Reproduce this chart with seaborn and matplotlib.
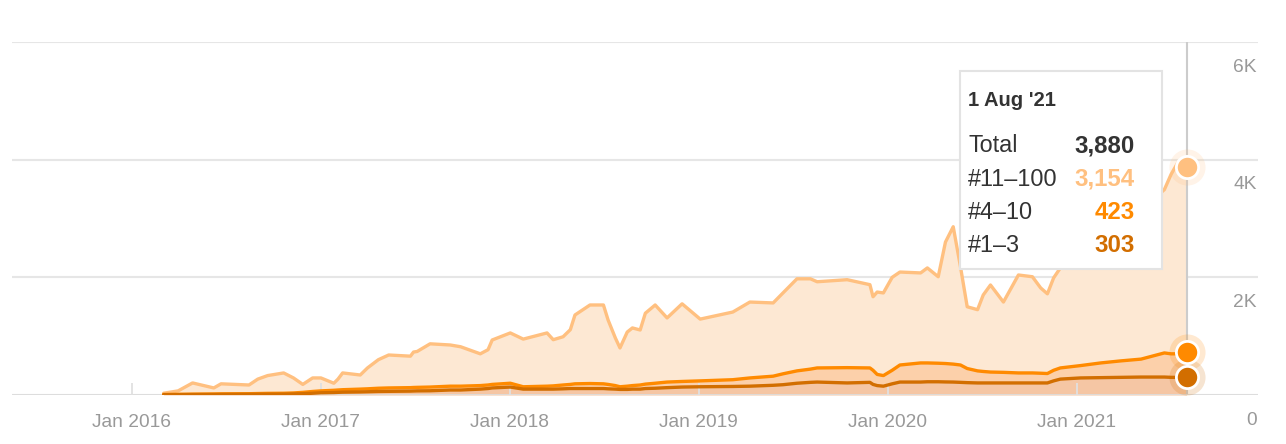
import pandas as pd
import matplotlib.pyplot as plt
import matplotlib.dates as mdates
from matplotlib.patches import Rectangle
import seaborn as sns

# ----------------------------------------------------------------------
# Data (stacked values)
# ----------------------------------------------------------------------
dates = [
    "2016-03-03", "2016-03-31", "2016-04-28", "2016-06-08", "2016-06-22",
    "2016-08-15", "2016-09-01", "2016-09-20", "2016-10-21", "2016-11-09",
    "2016-11-27", "2016-12-16", "2017-01-01", "2017-01-26", "2017-02-03",
    "2017-02-12", "2017-03-18", "2017-04-01", "2017-04-22", "2017-05-12",
    "2017-06-23", "2017-06-29", "2017-07-06", "2017-07-31", "2017-09-08",
    "2017-09-28", "2017-11-05", "2017-11-20", "2017-11-28", "2018-01-02",
    "2018-01-27", "2018-03-14", "2018-03-26", "2018-04-14", "2018-04-28",
    "2018-05-07", "2018-06-05", "2018-07-01", "2018-07-10", "2018-07-24",
    "2018-08-02", "2018-08-16", "2018-08-26", "2018-09-10", "2018-09-20",
    "2018-10-09", "2018-11-01", "2018-11-30", "2019-01-04", "2019-03-08",
    "2019-04-10", "2019-05-25", "2019-06-13", "2019-07-10", "2019-08-05",
    "2019-08-18", "2019-10-15", "2019-11-28", "2019-12-04", "2019-12-12",
    "2019-12-24", "2020-01-10", "2020-01-25", "2020-03-05", "2020-03-18",
    "2020-04-08", "2020-04-22", "2020-05-07", "2020-05-21", "2020-06-03",
    "2020-06-23", "2020-07-04", "2020-07-18", "2020-08-12", "2020-09-10",
    "2020-10-07", "2020-10-23", "2020-11-05", "2020-11-17", "2020-11-30",
    "2021-01-08", "2021-02-16", "2021-03-27", "2021-05-05", "2021-06-19",
    "2021-07-02", "2021-07-15", "2021-08-01",
]
total = [
    30, 70, 205, 120, 190,
    170, 270, 330, 375, 290,
    180, 290, 290, 200, 270,
    375, 340, 460, 600, 680,
    660, 730, 740, 870, 850,
    820, 700, 770, 935, 1055,
    950, 1055, 940, 990, 1110,
    1360, 1530, 1530, 1275, 970,
    800, 1070, 1140, 1105, 1390,
    1530, 1310, 1550, 1290, 1410,
    1580, 1565, 1735, 1975, 1975,
    1925, 1960, 1875, 1670, 1750,
    1735, 2000, 2090, 2075, 2160,
    2010, 2600, 2860, 2180, 1500,
    1450, 1700, 1870, 1580, 2040,
    2010, 1820, 1720, 1990, 2160,
    2380, 2640, 2890, 3150, 3490,
    3750, 3950, 3880,
]
top10 = [
    10, 12, 15, 18, 20,
    22, 25, 28, 30, 35,
    45, 60, 70, 80, 85,
    90, 100, 105, 115, 120,
    125, 128, 130, 135, 150,
    150, 160, 170, 180, 200,
    140, 150, 155, 170, 180,
    190, 195, 190, 180, 160,
    140, 150, 160, 170, 185,
    200, 220, 230, 240, 260,
    290, 320, 360, 410, 440,
    460, 465, 460, 420, 350,
    330, 420, 510, 545, 545,
    540, 535, 525, 510, 450,
    410, 400, 390, 385, 375,
    375, 370, 365, 420, 460,
    500, 545, 580, 610, 715,
    700, 700, 726,
]
top3 = [
    5, 6, 8, 9, 10,
    12, 13, 14, 15, 18,
    22, 30, 38, 42, 45,
    48, 52, 55, 60, 62,
    66, 68, 70, 72, 85,
    85, 100, 110, 120, 135,
    100, 100, 100, 105, 110,
    110, 110, 110, 105, 100,
    95, 95, 100, 100, 110,
    115, 125, 135, 140, 145,
    150, 165, 175, 200, 215,
    220, 205, 215, 180, 160,
    150, 190, 220, 220, 225,
    225, 222, 220, 215, 210,
    205, 205, 205, 205, 205,
    205, 205, 205, 240, 270,
    290, 295, 300, 305, 305,
    300, 300, 303,
]

y_ticks = [0, 2000, 4000, 6000]
y_labels = ["0", "2K", "4K", "6K"]

tip_title = "1 Aug '21"
tip_rows = ["Total", "#11–100", "#4–10", "#1–3"]
tip_values = ["3,880", "3,154", "423", "303"]

c_light = "#ffc080"
c_mid = "#ff8a00"
c_dark = "#d26e00"

df = pd.DataFrame({"date": pd.to_datetime(dates), "total": total,
                   "top10": top10, "top3": top3})

# ----------------------------------------------------------------------
# Figure
# ----------------------------------------------------------------------
sns.set_theme(style="white")
plt.rcParams["font.family"] = ["Liberation Sans", "DejaVu Sans"]

W, H = 1286, 444
fig = plt.figure(figsize=(W / 100, H / 100), dpi=100)
ax = fig.add_axes([12 / W, 49 / H, 1246 / W, 353 / H])

# stacked areas
ax.fill_between(df["date"], df["top10"], df["total"], color="#fde8d3", lw=0, zorder=1)
ax.fill_between(df["date"], df["top3"], df["top10"], color="#fcd0aa", lw=0, zorder=1)
ax.fill_between(df["date"], 0, df["top3"], color="#f5c6a4", lw=0, zorder=1)

sns.lineplot(data=df, x="date", y="total", color=c_light, lw=2.4, ax=ax, zorder=3)
sns.lineplot(data=df, x="date", y="top10", color=c_mid, lw=2.4, ax=ax, zorder=4)
sns.lineplot(data=df, x="date", y="top3", color=c_dark, lw=2.4, ax=ax, zorder=5)

# hover cursor + markers
last = df.iloc[-1]
ax.plot([last["date"], last["date"]], [0, 6000], color="#cccccc", lw=1.5, zorder=2)
for col, c in [("total", c_light), ("top10", c_mid), ("top3", c_dark)]:
    ax.plot(last["date"], last[col], "o", ms=26, color=c, alpha=0.18, mew=0, zorder=6)
    ax.plot(last["date"], last[col], "o", ms=16, mfc=c, mec="white", mew=2, zorder=7)

# axes styling
ax.set_ylim(0, 6000)
ax.set_xlim(pd.Timestamp("2015-05-15"), pd.Timestamp("2021-12-17"))
ax.set_yticks(y_ticks)
ax.set_yticklabels([])
ax.tick_params(axis="y", length=0)
ax.grid(axis="y", color="#e6e6e6", lw=1.5, zorder=0)
ax.grid(axis="x", visible=False)
ax.axhline(0, color="#dddddd", lw=2, zorder=2)
for s in ax.spines.values():
    s.set_visible(False)
ax.set_xlabel("")
ax.set_ylabel("")

ax.xaxis.set_major_locator(mdates.YearLocator())
ax.xaxis.set_major_formatter(mdates.DateFormatter("%b %Y"))
ax.tick_params(axis="x", direction="in", length=8.5, width=1.3, color="#e0e0e0",
               pad=14, labelsize=13.8, labelcolor="#999999", bottom=True)
ax.xaxis.set_zorder(2)

for v, lab in zip(y_ticks, y_labels):
    ax.annotate(lab, xy=(1, v), xycoords=("axes fraction", "data"),
                xytext=(-1, -25), textcoords="offset pixels",
                ha="right", va="center", color="#999999", fontsize=13.8)

# tooltip
fig.patches.append(Rectangle((960 / W, 1 - 269 / H), 202 / W, 198 / H,
                             transform=fig.transFigure, facecolor="white",
                             edgecolor="#e3e3e3", lw=1.5, zorder=10))
fig.text(968 / W, 1 - 101 / H, tip_title, fontsize=14.5, fontweight="bold",
         color="#333333", va="center", ha="left", zorder=11)
row_y = [146, 179, 212, 245]
row_c = ["#333333", c_light, c_mid, c_dark]
for y, lab, val, c in zip(row_y, tip_rows, tip_values, row_c):
    fig.text(968 / W, 1 - y / H, lab, fontsize=16.8, color="#333333",
             va="center", ha="left", zorder=11)
    fig.text(1135 / W, 1 - y / H, val, fontsize=17.3, fontweight="bold",
             color=c, va="center", ha="right", zorder=11)

fig.savefig("out.png", dpi=100)
